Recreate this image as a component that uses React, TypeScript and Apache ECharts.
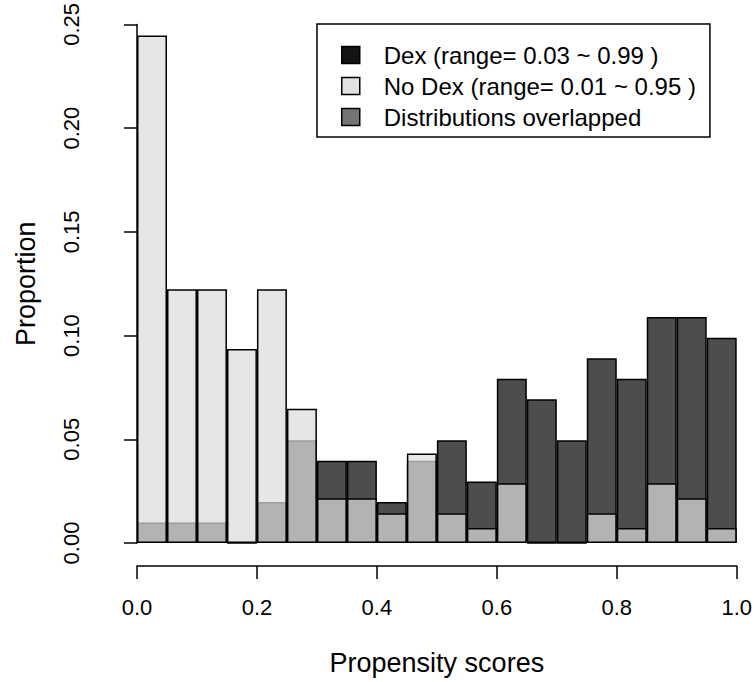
import React, { useEffect, useRef } from "react";
import * as echarts from "echarts";

// Histogram bins (width 0.05) from 0 to 1
const binStarts = [0, 0.05, 0.1, 0.15, 0.2, 0.25, 0.3, 0.35, 0.4, 0.45, 0.5, 0.55, 0.6, 0.65, 0.7, 0.75, 0.8, 0.85, 0.9, 0.95];
const binWidth = 0.05;

// Proportions per bin
const dexValues = [0.0099, 0.0099, 0.0099, 0, 0.0198, 0.0495, 0.0396, 0.0396, 0.0198, 0.0396, 0.0495, 0.0297, 0.0792, 0.0693, 0.0495, 0.0891, 0.0792, 0.1089, 0.1089, 0.099];
const noDexValues = [0.2446, 0.1223, 0.1223, 0.0935, 0.1223, 0.0647, 0.0216, 0.0216, 0.0144, 0.0432, 0.0144, 0.0072, 0.0288, 0, 0, 0.0144, 0.0072, 0.0288, 0.0216, 0.0072];

// Legend labels
const dexLabel = "Dex (range= 0.03 ~ 0.99 )";
const noDexLabel = "No Dex (range= 0.01 ~ 0.95 )";
const overlapLabel = "Distributions overlapped";

// Axis settings
const xTicks = { min: 0, max: 1, interval: 0.2 };
const yTicks = { min: 0, max: 0.25, interval: 0.05 };
const xTitle = "Propensity scores";
const yTitle = "Proportion";

const FONT = "'Liberation Sans', Arial, Helvetica, sans-serif";

export default function App() {
  const ref = useRef<HTMLDivElement>(null);

  useEffect(() => {
    if (!ref.current) return;
    const chart = echarts.init(ref.current, null, { renderer: "svg" });
    const categories = binStarts.map((s) => `${s.toFixed(2)}-${(s + binWidth).toFixed(2)}`);
    const lineStyle = { color: "#000", width: 1.5 };

    chart.setOption({
      animation: false,
      backgroundColor: "#fff",
      textStyle: { fontFamily: FONT },
      grid: { left: 137, top: 23, width: 600, height: 520 },
      xAxis: [
        {
          type: "category",
          data: categories,
          position: "bottom",
          boundaryGap: true,
          show: false,
        },
        {
          type: "value",
          position: "bottom",
          min: xTicks.min,
          max: xTicks.max,
          interval: xTicks.interval,
          offset: 23,
          splitLine: { show: false },
          axisLine: { show: true, lineStyle },
          axisTick: { show: true, length: 13, lineStyle },
          axisLabel: {
            color: "#000",
            fontSize: 22,
            fontFamily: FONT,
            margin: 30,
            formatter: (v: number) => v.toFixed(1),
          },
          name: xTitle,
          nameLocation: "middle",
          nameGap: 83,
          nameTextStyle: { color: "#000", fontSize: 27, fontFamily: FONT },
        },
      ],
      yAxis: {
        type: "value",
        min: yTicks.min,
        max: yTicks.max,
        interval: yTicks.interval,
        offset: 24,
        splitLine: { show: false },
        axisLine: { show: true, lineStyle },
        axisTick: { show: true, length: 13, lineStyle },
        axisLabel: {
          color: "#000",
          fontSize: 22,
          fontFamily: FONT,
          rotate: 90,
          margin: 31,
          formatter: (v: number) => v.toFixed(2),
        },
        name: yTitle,
        nameLocation: "middle",
        nameGap: 74,
        nameRotate: 90,
        nameTextStyle: { color: "#000", fontSize: 27, fontFamily: FONT },
      },
      legend: {
        orient: "vertical",
        left: 317,
        top: 24,
        padding: [19, 14, 8, 24],
        itemGap: 7,
        itemWidth: 18,
        itemHeight: 17,
        icon: "rect",
        selectedMode: false,
        borderColor: "#000",
        borderWidth: 1.5,
        backgroundColor: "#fff",
        textStyle: {
          color: "#000",
          fontSize: 24,
          lineHeight: 24,
          fontFamily: FONT,
          padding: [0, 0, 0, 19],
        },
        data: [
          { name: dexLabel, itemStyle: { color: "#141414", borderColor: "#000", borderWidth: 1.5 } },
          { name: noDexLabel, itemStyle: { color: "#e2e2e2", borderColor: "#000", borderWidth: 1.5 } },
          { name: overlapLabel, itemStyle: { color: "#747474", borderColor: "#000", borderWidth: 1.5 } },
        ],
      },
      series: [
        {
          name: dexLabel,
          type: "bar",
          xAxisIndex: 0,
          data: dexValues,
          barWidth: "100%",
          barGap: "-100%",
          itemStyle: { color: "#4d4d4d", borderColor: "#000", borderWidth: 1.5 },
          z: 2,
        },
        {
          name: noDexLabel,
          type: "bar",
          xAxisIndex: 0,
          data: noDexValues,
          barWidth: "100%",
          barGap: "-100%",
          itemStyle: { color: "rgba(220,220,220,0.7135)", borderColor: "#000", borderWidth: 1.5 },
          z: 3,
        },
        {
          name: overlapLabel,
          type: "bar",
          xAxisIndex: 0,
          data: [],
          barWidth: "100%",
          barGap: "-100%",
          itemStyle: { color: "#747474" },
        },
      ],
    });

    return () => chart.dispose();
  }, []);

  return (
    <div
      ref={ref}
      style={{ position: "absolute", left: 0, top: 0, width: 755, height: 682, background: "#fff" }}
    />
  );
}
